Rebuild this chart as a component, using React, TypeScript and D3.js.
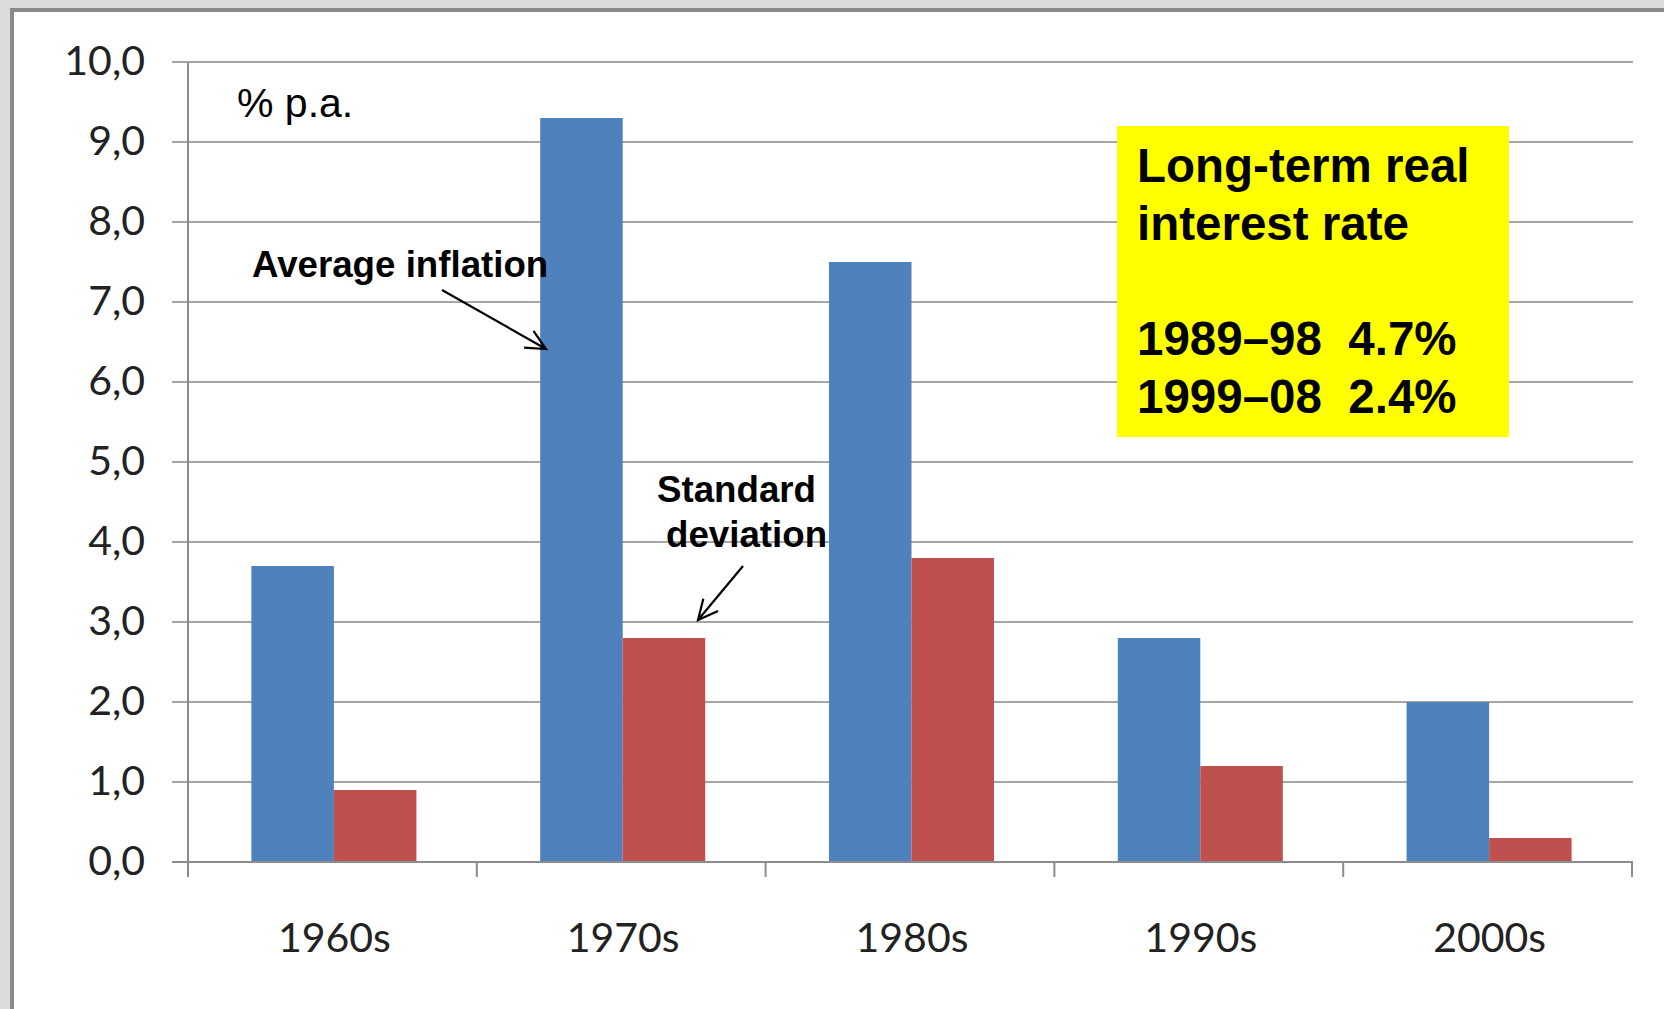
import React from "react";
import * as d3 from "d3";

const categories = ["1960s", "1970s", "1980s", "1990s", "2000s"];
const seriesNames = ["Average inflation", "Standard deviation"];
const avgInflation = [3.7, 9.3, 7.5, 2.8, 2.0];
const stdDeviation = [0.9, 2.8, 3.8, 1.2, 0.3];
const yTicks = [0, 1, 2, 3, 4, 5, 6, 7, 8, 9, 10];
const boxLines = ["Long-term real", "interest rate", "", "1989\u201398  4.7%", "1999\u201308  2.4%"];

const W = 1664;
const H = 1009;
const colors = ["#4F81BD", "#C0504D"];

export default function App() {
  const x = d3.scaleBand<string>().domain(categories).range([188, 1632]).paddingInner(0).paddingOuter(0);
  const xs = d3.scaleBand<string>().domain(seriesNames).range([1.5, x.bandwidth() + 1.5]).paddingInner(0).paddingOuter(0.75);
  const y = d3.scaleLinear().domain([0, 10]).range([862, 62]);
  const fmt = (v: number) => d3.format(".1f")(v).replace(".", ",");
  const values = [avgInflation, stdDeviation];

  const arrow = (x1: number, y1: number, x2: number, y2: number, len = 22, spread = 0.45) => {
    const a = Math.atan2(y2 - y1, x2 - x1);
    const p1 = [x2 - len * Math.cos(a - spread), y2 - len * Math.sin(a - spread)];
    const p2 = [x2 - len * Math.cos(a + spread), y2 - len * Math.sin(a + spread)];
    return `M${x1},${y1}L${x2},${y2}M${p1[0]},${p1[1]}L${x2},${y2}L${p2[0]},${p2[1]}`;
  };

  const boundaries = d3.range(categories.length + 1).map((i) => 188 + i * x.step());

  return (
    <svg
      width={W}
      height={H}
      style={{ position: "absolute", left: 0, top: 0, display: "block" }}
    >
      <rect x={0} y={0} width={W} height={H} fill="#dcdcdc" />
      <rect x={10} y={8} width={W} height={H} fill="#8a8a8a" />
      <rect x={14} y={12} width={W} height={H} fill="#ffffff" />

      {/* gridlines */}
      {yTicks.map((t) => (
        <line key={t} x1={172} x2={1633} y1={y(t)} y2={y(t)} stroke="#a6a6a6" strokeWidth={2} />
      ))}
      {/* y tick labels */}
      {yTicks.map((t) => (
        <text
          key={"l" + t}
          x={145}
          y={y(t) + 13}
          textAnchor="end"
          fontFamily="Lato"
          fontSize={41}
          fill="#222"
        >
          {fmt(t)}
        </text>
      ))}

      {/* bars */}
      {categories.map((c, i) => (
        <g key={c} transform={`translate(${x(c)},0)`}>
          {seriesNames.map((s, j) => (
            <rect
              key={s}
              x={xs(s)}
              y={y(values[j][i])}
              width={xs.bandwidth()}
              height={y(0) - y(values[j][i])}
              fill={colors[j]}
            />
          ))}
        </g>
      ))}

      {/* axes */}
      <line x1={188} x2={188} y1={y(10)} y2={y(0)} stroke="#8c8c8c" strokeWidth={2} />
      <line x1={172} x2={1633} y1={y(0)} y2={y(0)} stroke="#8c8c8c" strokeWidth={2} />
      {boundaries.map((b, i) => (
        <line key={"t" + i} x1={b} x2={b} y1={y(0)} y2={y(0) + 15} stroke="#8c8c8c" strokeWidth={2} />
      ))}
      {categories.map((c) => (
        <text
          key={"x" + c}
          x={(x(c) as number) + x.bandwidth() / 2 + 2}
          y={952}
          textAnchor="middle"
          fontFamily="Lato"
          fontSize={41}
          fill="#222"
        >
          {c}
        </text>
      ))}

      <text x={237} y={117} fontFamily="Liberation Sans, Arial, sans-serif" fontSize={41} fill="#000">
        % p.a.
      </text>

      {/* annotations */}
      <text x={252} y={277} fontFamily="Liberation Sans, Arial, sans-serif" fontWeight="bold" fontSize={36.7} fill="#000">
        Average inflation
      </text>
      <path d={arrow(442, 290, 546, 349)} stroke="#000" strokeWidth={2.2} fill="none" />

      <text x={657} y={502} fontFamily="Liberation Sans, Arial, sans-serif" fontWeight="bold" fontSize={36.7} fill="#000">
        Standard
      </text>
      <text x={666} y={547} fontFamily="Liberation Sans, Arial, sans-serif" fontWeight="bold" fontSize={36.7} fill="#000">
        deviation
      </text>
      <path d={arrow(743, 566, 698, 620)} stroke="#000" strokeWidth={2.2} fill="none" />

      {/* yellow box */}
      <rect x={1117} y={126} width={392} height={311} fill="#ffff00" />
      {boxLines.map((l, i) => (
        <text
          key={"b" + i}
          x={1137}
          y={182 + i * 57.8}
          fontFamily="Liberation Sans, Arial, sans-serif"
          fontWeight="bold"
          fontSize={47.5}
          fill="#000"
          style={{ whiteSpace: "pre" }}
        >
          {l}
        </text>
      ))}
    </svg>
  );
}
